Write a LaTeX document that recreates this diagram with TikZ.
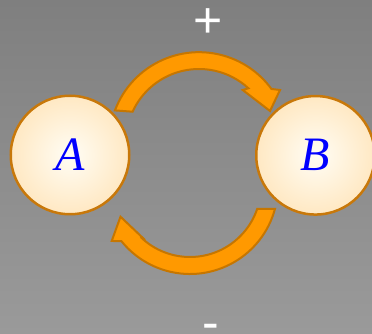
\documentclass[tikz,border=0pt]{standalone}
\usepackage{fontspec}
\setmainfont{Liberation Serif}
\newfontfamily\signfont{Liberation Sans}
\definecolor{bgtop}{RGB}{127,127,127}
\definecolor{bgbot}{RGB}{154,154,154}
\definecolor{arrowfill}{RGB}{255,153,0}
\definecolor{arrowline}{RGB}{198,118,0}
\definecolor{ballline}{RGB}{200,120,10}
\definecolor{ballin}{RGB}{255,253,245}
\definecolor{ballmid}{RGB}{255,228,185}
\definecolor{ballrim}{RGB}{255,212,150}
\definecolor{ballout}{RGB}{250,188,105}
\pgfdeclareradialshading{ballshade}{\pgfpoint{0bp}{0bp}}{color(0bp)=(ballin); color(30bp)=(ballmid); color(45bp)=(ballrim); color(50bp)=(ballout)}
\begin{document}
\begin{tikzpicture}[x=1pt,y=1pt,
  bigarrow/.style={fill=arrowfill, draw=arrowline, line width=2pt, line join=miter},
  ball/.style={circle, draw=ballline, line width=2.5pt, shade, shading=ballshade, minimum size=118.5pt, inner sep=0pt, text=blue, font=\fontsize{48}{48}\selectfont\itshape},
  sign/.style={text=white, font=\signfont\fontsize{50}{50}\selectfont, inner sep=0pt, anchor=base}]
\useasboundingbox (0,0) rectangle (372,334);
\shade[top color=bgtop, bottom color=bgbot] (0,0) rectangle (372,334);
% arrows
\coordinate (tc) at (199,192);
\coordinate (bc) at (190,148);
\draw[bigarrow] ([shift={(159.4:89.8pt)}]tc) arc[start angle=159.4, end angle=36.2, radius=89.8pt]
  -- (280,244) -- (270,223) -- (242.7,244)
  -- ([shift={(47.4:73pt)}]tc) arc[start angle=47.4, end angle=155.5, radius=73pt] -- cycle;
\draw[bigarrow] ([shift={(-15.1:88pt)}]bc) arc[start angle=-15.1, end angle=-141.3, radius=88pt]
  -- (111.7,93) -- (120.5,117.3) -- (145,94)
  -- ([shift={(-134.1:71pt)}]bc) arc[start angle=-134.1, end angle=-18.9, radius=71pt] -- cycle;
% balls
\node[ball] (A) at (70,179) {A};
\node[ball] (B) at (315.5,178.7) {B};
% signs
\node[sign] (plus) at (208,296.5) {+};
\node[sign] (minus) at (211,-5.75) {-};
\end{tikzpicture}
\end{document}
